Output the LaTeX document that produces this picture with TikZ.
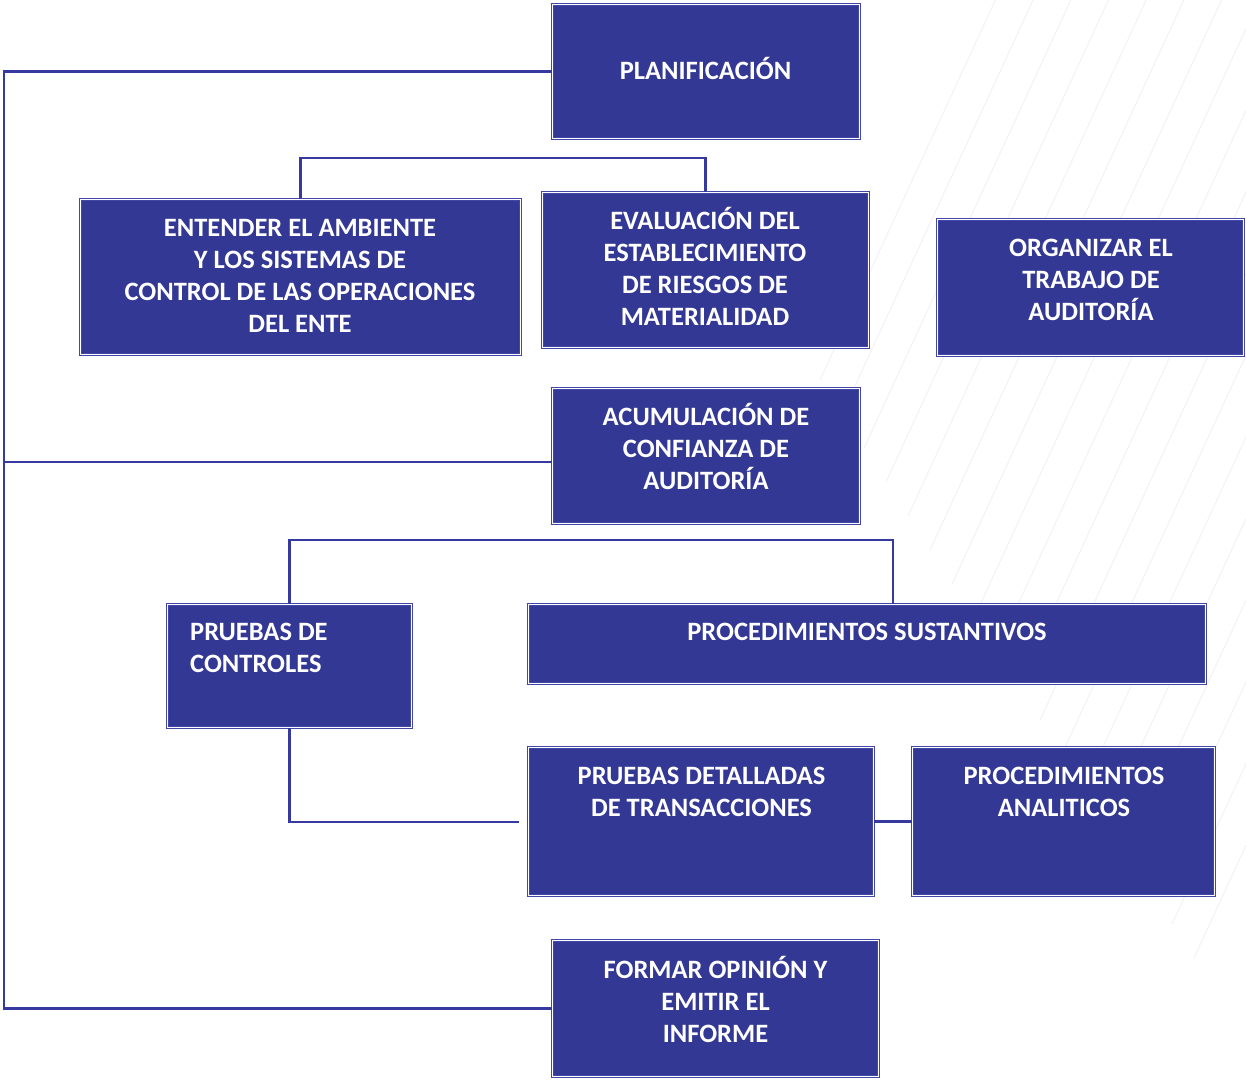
\documentclass[tikz,border=0pt]{standalone}
\usepackage{fontspec}
\setmainfont{Carlito}
\usetikzlibrary{positioning}

\definecolor{boxfill}{RGB}{51,56,148}
\definecolor{boxedge}{RGB}{66,70,166}
\definecolor{linkblue}{RGB}{53,57,160}
\definecolor{fanline}{RGB}{240,242,245}

\tikzset{
  stage/.style={draw=boxedge, line width=1pt, double=white, double distance=1.2pt,
                fill=boxfill, inner sep=0pt},
  stagetext/.style={text=white, font=\fontsize{26.5}{32}\selectfont\bfseries, align=center, inner sep=0pt},
  link/.style={draw=linkblue, line width=2.4pt},
}

\begin{document}
\begin{tikzpicture}[x=1pt, y=-1pt]
  \useasboundingbox (0,0) rectangle (1246,1080);
  % faint fan of lines behind the right half
  \begin{scope}
    \clip (0,0) rectangle (1246,1080);
    \foreach \i in {0,...,17}{ \draw[fanline, line width=1pt] (820+\i*22, 380+\i*34) -- ++(480,-1040); }
  \end{scope}

  \coordinate (riskbar) at (0,158);
  \coordinate (testbar) at (0,540);
  \coordinate (spinetop) at (4,71.5);
  \coordinate (spinebot) at (4,1008.5);
  \coordinate (detgap) at (519,822);

  \node[stage, minimum width=307pt, minimum height=134pt] (plan) at (706,71.5) {};
  \node[stage, minimum width=440pt, minimum height=155pt] (ent)  at (300.5,277) {};
  \node[stage, minimum width=326pt, minimum height=155pt] (eval) at (705.5,270) {};
  \node[stage, minimum width=306pt, minimum height=136pt] (org)  at (1090.5,287.5) {};
  \node[stage, minimum width=307pt, minimum height=135pt] (acum) at (706,456) {};
  \node[stage, minimum width=244pt, minimum height=123pt] (ctrl) at (289.5,666) {};
  \node[stage, minimum width=677pt, minimum height=79pt]  (sust) at (867,644) {};
  \node[stage, minimum width=345pt, minimum height=148pt] (det)  at (701,821.5) {};
  \node[stage, minimum width=302pt, minimum height=148pt] (ana)  at (1063.5,821.5) {};
  \node[stage, minimum width=326pt, minimum height=136pt] (form) at (715.5,1008.5) {};
  \coordinate (sustjoin) at ([xshift=26pt]sust.north);

  \node[stagetext] (plan-t) at (705.5,68)  {PLANIFICACIÓN};
  \node[stagetext] (ent-t)  at (300,276)   {ENTENDER EL AMBIENTE\\Y LOS SISTEMAS DE\\CONTROL DE LAS OPERACIONES\\DEL ENTE};
  \node[stagetext] (eval-t) at (705,266)   {EVALUACIÓN DEL\\ESTABLECIMIENTO\\DE RIESGOS DE\\MATERIALIDAD};
  \node[stagetext] (org-t)  at (1091,280)  {ORGANIZAR EL\\TRABAJO DE\\AUDITORÍA};
  \node[stagetext] (acum-t) at (706,446)   {ACUMULACIÓN DE\\CONFIANZA DE\\AUDITORÍA};
  \node[stagetext, align=left, anchor=west] (ctrl-t) at (190,648) {PRUEBAS DE\\CONTROLES};
  \node[stagetext] (sust-t) at (867,632)   {PROCEDIMIENTOS SUSTANTIVOS};
  \node[stagetext] (det-t)  at (701.5,792) {PRUEBAS DETALLADAS\\DE TRANSACCIONES};
  \node[stagetext] (ana-t)  at (1064,792)  {PROCEDIMIENTOS\\ANALITICOS};
  \node[stagetext] (form-t) at (715.5,999) {FORMAR OPINIÓN Y\\EMITIR EL\\INFORME};

  % left spine
  \draw[link] (plan.west) -- (spinetop) -- (spinebot) -- (form.west);
  \draw[link] ([yshift=-6pt]acum.west) -- ([yshift=-6pt]acum.west -| spinetop);
  % brackets
  \draw[link] (ent.north) |- (riskbar -| eval.north) -- (eval.north);
  \draw[link] (ctrl.north) |- (testbar -| sustjoin) -- (sustjoin);
  \draw[link] (ctrl.south) |- (detgap);
  \draw[link] (det.east) -- (ana.west);
\end{tikzpicture}
\end{document}
